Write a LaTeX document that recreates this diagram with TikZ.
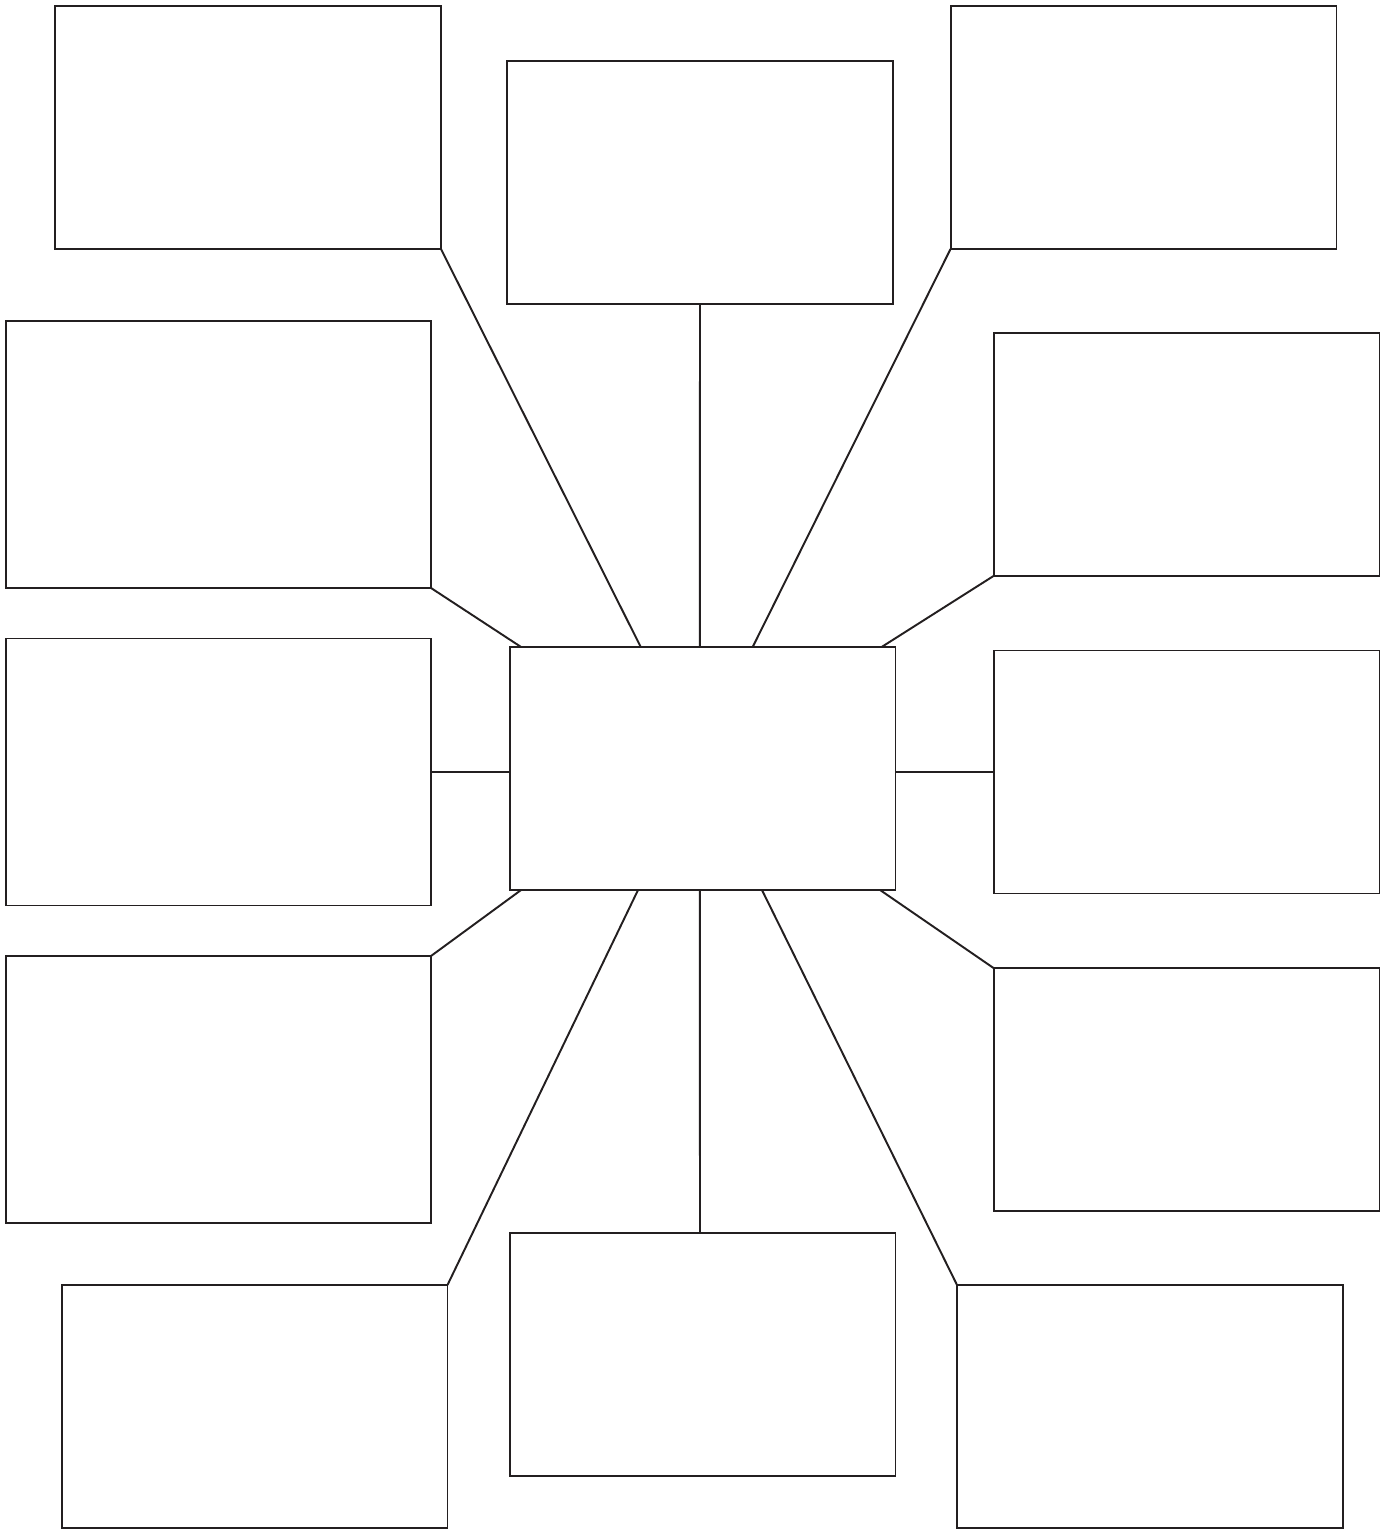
\documentclass[tikz,border=0pt]{standalone}
\usepackage{tikz}
\usetikzlibrary{positioning,calc}
\definecolor{webline}{HTML}{231F20}

\begin{document}
\begin{tikzpicture}[
    x=0.02cm,y=-0.02cm,
    card/.style  = {rectangle,draw=webline,fill=white,line width=1.1pt,outer sep=0pt,
                    minimum width=7.72cm,minimum height=4.86cm},
    wide/.style  = {card,minimum width=8.5cm,minimum height=5.34cm},
    spoke/.style = {draw=webline,line width=1.1pt},
  ]
  \useasboundingbox (0,0) rectangle (1390,1530);

  % centre
  \node[card] (hub)   at (702.5,768.5)  {};

  % top row
  \node[card] (tl)    at (248,127.5)    {};
  \node[card] (top)   at (700,182.5)    {};
  \node[card] (tr)    at (1143.5,127.5) {};

  % left column
  \node[wide] (l1)    at (218.5,454.5)  {};
  \node[wide] (l2)    at (218.5,772)    {};
  \node[wide] (l3)    at (218.5,1089.5) {};

  % right column
  \node[card] (r1)    at (1186.5,454.5) {};
  \node[card] (r2)    at (1186.5,772)   {};
  \node[card] (r3)    at (1186.5,1089.5){};

  % bottom row
  \node[card] (bl)    at (254.5,1406.5) {};
  \node[card] (bot)   at (702.5,1354.5) {};
  \node[card] (br)    at (1150,1406.5)  {};

  % spokes
  \draw[spoke] (tl.south east) -- ($(hub.north west)!0.34!(hub.north east)$);
  \draw[spoke] (top.south) -- ($(hub.north west)!0.493!(hub.north east)$);
  \draw[spoke] (tr.south west) -- ($(hub.north west)!0.63!(hub.north east)$);
  \draw[spoke] (l1.south east) -- ($(hub.north west)!0.03!(hub.north east)$);
  \draw[spoke] (r1.south west) -- ($(hub.north west)!0.964!(hub.north east)$);
  \draw[spoke] (l2.east) -- (l2.east -| hub.west);
  \draw[spoke] (r2.west) -- (r2.west -| hub.east);
  \draw[spoke] (l3.north east) -- ($(hub.south west)!0.03!(hub.south east)$);
  \draw[spoke] (r3.north west) -- ($(hub.south west)!0.96!(hub.south east)$);
  \draw[spoke] (bl.north east) -- ($(hub.south west)!0.333!(hub.south east)$);
  \draw[spoke] (bot.north -| top.south) -- ($(hub.south west)!0.493!(hub.south east)$);
  \draw[spoke] (br.north west) -- ($(hub.south west)!0.654!(hub.south east)$);

\end{tikzpicture}
\end{document}
